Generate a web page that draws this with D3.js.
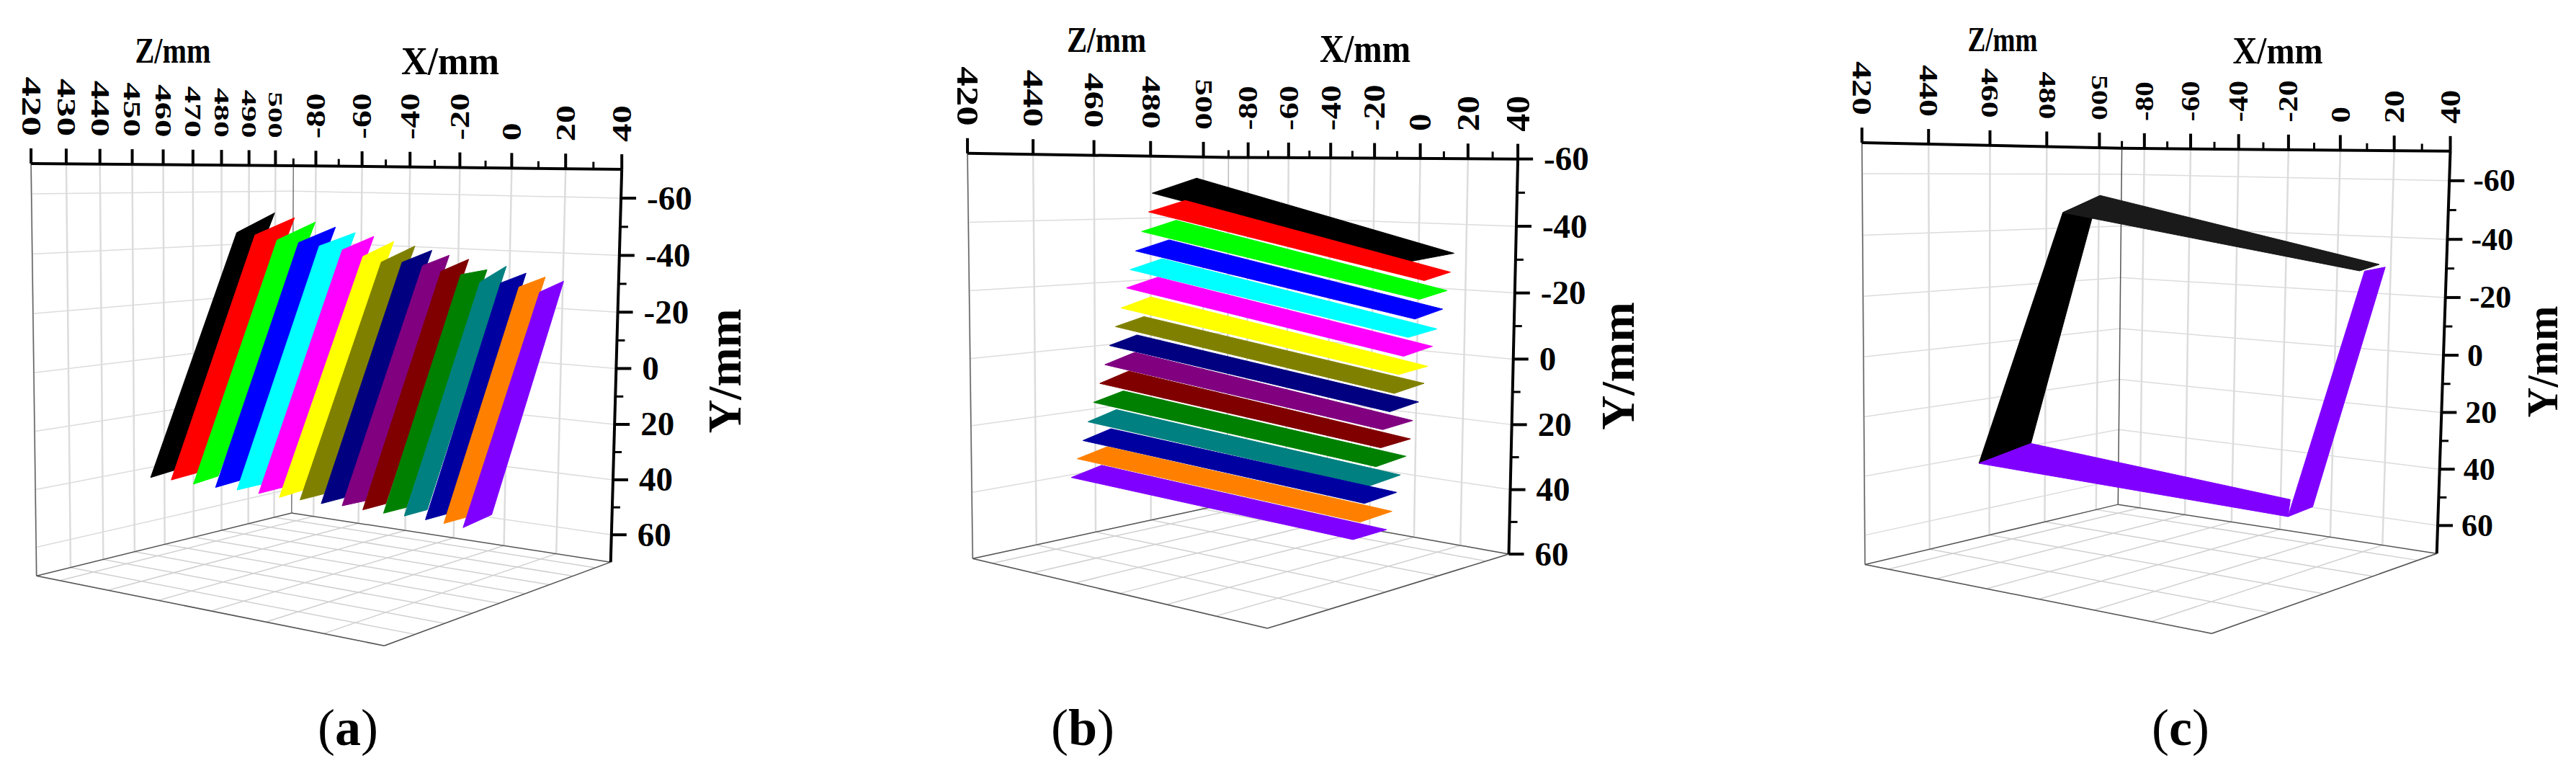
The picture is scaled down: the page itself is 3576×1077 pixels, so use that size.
<!DOCTYPE html>
<html><head><meta charset="utf-8">
<script src="https://cdn.jsdelivr.net/npm/d3@7"></script>
<style>html,body{margin:0;background:#fff}svg{display:block}text{font-family:"Liberation Serif",serif;font-weight:bold;fill:#000}</style>
</head><body><svg id="c" width="3576" height="1077"></svg>
<script>
const stripColors=["#000000","#ff0000","#00ff00","#0000ff","#00ffff","#ff00ff","#ffff00","#808000","#000080","#800080","#800000","#008000","#008080","#0000a0","#ff8000","#8000ff"];
const outlineColors=["#000000","#1a1a1a","#8000ff","#8000ff"];
const xTicks=[-80,-60,-40,-20,0,20,40];
const xMinor=[-90,-70,-50,-30,-10,10,30];
const zTicksA=[420,430,440,450,460,470,480,490,500];
const zTicksBC=[420,440,460,480,500];
const yTicks=[-60,-40,-20,0,20,40,60];
const yMinor=[-50,-30,-10,10,30,50];

// corner values of every scanned strip, in mm
const stripXa=[[-78.5,-81.0,-75.1,-64.1],[-70.7,-72.4,-65.4,-55.7],[-61.4,-63.5,-56.9,-46.8],[-52.5,-55.0,-47.5,-38.1],[-44.1,-46.8,-38.9,-29.8],[-34.9,-39.2,-31.1,-21.6],[-26.8,-31.2,-23.1,-13.9],[-19.7,-22.8,-15.3,-6.3],[-11.8,-16.2,-7.5,1.3],[-4.1,-9.5,0.1,8.7],[2.7,-2.1,7.5,15.9],[9.9,4.8,14.9,23.0],[16.8,11.9,22.1,30.0],[24.1,19.1,29.2,37.0],[30.5,26.0,35.5,43.0],[37.6,32.5,43.9,49.2]];
const stripYa=[[-45.2,-52.0,38.5,36.2],[-44.6,-50.4,38.2,36.0],[-43.1,-49.0,38.4,36.3],[-42.5,-47.4,38.6,36.3],[-41.6,-45.6,38.9,36.1],[-40.6,-44.5,39.1,36.2],[-38.6,-42.9,39.0,36.5],[-36.9,-41.6,39.3,36.3],[-37.2,-40.3,39.5,36.5],[-36.4,-38.8,39.6,36.2],[-34.8,-37.7,39.6,36.5],[-34.0,-34.3,39.8,36.6],[-31.8,-35.9,39.6,36.5],[-31.9,-33.8,39.9,36.7],[-30.9,-32.8,40.2,37.0],[-29.6,-31.7,38.2,37.4]];
const stripZa=stripColors.map(()=>[476,492,452,436]);

const stripXb=[[-83.6,-82.9,32.4,31.2],[-81.3,-84.7,34.0,39.7],[-82.0,-86.6,34.8,40.0],[-80.8,-86.1,36.1,41.4],[-79.3,-85.5,37.0,42.0],[-78.3,-85.0,37.3,42.4],[-76.7,-84.4,38.6,43.8],[-75.2,-83.7,40.3,45.3],[-75.3,-84.4,40.3,45.8],[-73.2,-81.3,41.2,46.4],[-71.3,-80.1,43.5,48.9],[-71.5,-80.0,43.9,49.4],[-69.8,-79.2,45.0,50.1],[-67.8,-77.6,46.8,51.7],[-67.6,-76.6,47.2,52.3],[-66.0,-75.0,48.4,53.1]];
const stripYb=[[-48.2,-53.0,-32.4,-30.7],[-42.3,-45.7,-27.1,-25.8],[-36.1,-39.2,-21.9,-20.7],[-30.1,-32.9,-16.8,-15.5],[-24.4,-26.9,-11.4,-10.7],[-18.8,-21.0,-6.6,-5.7],[-12.8,-14.8,-1.3,-1.1],[-7.3,-8.7,3.1,3.6],[-1.6,-2.9,8.1,8.3],[3.9,2.2,12.9,12.7],[9.2,7.8,17.4,16.9],[14.8,13.9,21.9,21.6],[20.2,19.4,26.5,26.2],[25.3,24.9,30.6,30.1],[30.5,30.2,35.4,34.6],[35.5,35.4,39.7,38.5]];
const stripZb=[[476,492,492,476],[473,489,489,473],[471,487,487,471],[468,484,484,468],[465,481,481,465],[463,479,479,463],[460,476,476,460],[457,473,473,457],[455,471,471,455],[452,468,468,452],[449,465,465,449],[447,463,463,447],[444,460,460,444],[441,457,457,441],[439,455,455,439],[436,452,452,436]];

const stripXc=[[-78.1,-81.6,-62.3,-63.7],[-78.1,-80.5,42.4,35.8],[-63.7,-62.3,49.3,48.7],[37.5,31.6,42.5,48.7]];
const stripYc=[[-46.4,-51.4,31.8,35.7],[-46.4,-52.3,-33.5,-31.1],[35.7,31.8,33.0,38.2],[-31.1,-31.1,39.8,38.2]];
const stripZc=[[476,492,452,436],[476,492,476,476],[436,452,436,436],[476,492,452,436]];

const panels=[
{name:"a",ox:0,sx:1.568,sy:1.456,xD:[-90,40],yD:[-70,70],zD:[420,507],zTicks:zTicksA,
 cal:[[-90,-70,420,68,330],[-90,-70,507,637,335],[40,-70,507,1355,342],[-90,70,507,635,1035],[-90,70,420,80,1165],[40,70,507,1330,1135],[40,70,420,835,1305],
 [-90,-70,430,145,331],[-90,-70,440,218,331],[-90,-70,450,288,332],[-90,-70,460,355,332],[-90,-70,470,420,333],[-90,-70,480,481,333],[-90,-70,490,540,334],[-90,-70,500,598,335],
 [-80,-70,507,688,336],[-60,-70,507,790,337],[-40,-70,507,895,338],[-20,-70,507,1002,339],[0,-70,507,1115,340],[20,-70,507,1232,341],
 [40,-60,507,1352,400],[40,-40,507,1345,515],[40,-20,507,1342,630],[40,0,507,1340,745],[40,20,507,1338,858],[40,40,507,1335,970],[40,60,507,1332,1082]],
 sxs:stripXa,sys:stripYa,szs:stripZa,colors:stripColors,zLab:[55,43],zFs:[37,28],xLab:[47,51],xFs:[38,38],yX:36,yFs:47,
 zT:[240,87,105,50],xT:[625,103,136,54],yT:[1028,515,173,66],cap:[483,1034],backStroke:"#777"},
{name:"b",ox:1250,sx:1.568,sy:1.456,xD:[-90,40],yD:[-60,60],zD:[420,510],zTicks:zTicksBC,
 cal:[[-90,-60,420,147,310],[-90,-60,510,714,318],[40,-60,510,1345,321],[-90,60,510,714,1018],[-90,60,420,155,1128],[40,60,510,1322,1120],[40,60,420,800,1270],
 [-90,-60,440,290,312],[-90,-60,460,420,314],[-90,-60,480,544,316],[-90,-60,500,658,317],
 [-80,-60,510,757,318],[-60,-60,510,845,319],[-40,-60,510,936,319],[-20,-60,510,1032,320],[0,-60,510,1131,320],[20,-60,510,1236,321],
 [40,-40,510,1340,457],[40,-20,510,1338,592],[40,0,510,1335,725],[40,20,510,1330,858],[40,40,510,1327,990]],
 sxs:stripXb,sys:stripYb,szs:stripZb,colors:stripColors,zLab:[55,47],zFs:[42,33],xLab:[46,50],xFs:[37,47],yX:36,yFs:47,
 zT:[1536,72,110,50],xT:[1895,86,126,54],yT:[2268,508,178,66],cap:[1503,1034],backStroke:"#bbb"},
{name:"c",ox:2500,sx:1.457,sy:1.457,xD:[-90,40],yD:[-70,70],zD:[420,509],zTicks:zTicksBC,
 cal:[[-90,-70,420,125,288],[-90,-70,509,650,300],[40,-70,509,1312,305],[-90,70,509,642,1020],[-90,70,420,130,1142],[40,70,509,1285,1120],[40,70,420,830,1282],
 [-90,-70,440,260,291],[-90,-70,460,380,294],[-90,-70,480,495,296],[-90,-70,500,602,298],
 [-80,-70,509,695,301],[-60,-70,509,790,302],[-40,-70,509,885,302],[-20,-70,509,988,303],[0,-70,509,1090,304],[20,-70,509,1200,304],
 [40,-60,509,1312,367],[40,-40,509,1308,484],[40,-20,509,1305,602],[40,0,509,1300,718],[40,20,509,1296,833],[40,40,509,1292,948],[40,60,509,1288,1062]],
 sxs:stripXc,sys:stripYc,szs:stripZc,colors:outlineColors,zLab:[50,42],zFs:[38,31],xLab:[41,47],xFs:[36,40],yX:33,yFs:44,
 zT:[2780,71,97,48],xT:[3162,88,125,52],yT:[3550,502,155,62],cap:[3027,1034],backStroke:"#555"}
];

function solve(A,b){const n=b.length;const M=A.map((r,i)=>[...r,b[i]]);
 for(let i=0;i<n;i++){let p=i;for(let k=i+1;k<n;k++)if(Math.abs(M[k][i])>Math.abs(M[p][i]))p=k;[M[i],M[p]]=[M[p],M[i]];
  for(let k=i+1;k<n;k++){const f=M[k][i]/M[i][i];for(let j=i;j<=n;j++)M[k][j]-=f*M[i][j];}}
 const x=Array(n).fill(0);for(let i=n-1;i>=0;i--){let s=M[i][n];for(let j=i+1;j<n;j++)s-=M[i][j]*x[j];x[i]=s/M[i][i];}return x;}
function camera(cfg){
 const sX=d3.scaleLinear().domain(cfg.xD).range([0,1]),sY=d3.scaleLinear().domain(cfg.yD).range([0,1]),sZ=d3.scaleLinear().domain(cfg.zD).range([0,1]);
 const rows=[],rhs=[];
 cfg.cal.forEach(([x,y,z,zu,zv])=>{const X=sX(x),Y=sY(y),Z=sZ(z),u=(cfg.ox+zu/cfg.sx)/1000,v=(zv/cfg.sy)/1000;
  rows.push([X,Y,Z,1,0,0,0,0,-u*X,-u*Y,-u*Z]);rhs.push(u);rows.push([0,0,0,0,X,Y,Z,1,-v*X,-v*Y,-v*Z]);rhs.push(v);});
 const n=11,AtA=d3.range(n).map(()=>Array(n).fill(0)),Atb=Array(n).fill(0);
 rows.forEach((r,k)=>{for(let i=0;i<n;i++){Atb[i]+=r[i]*rhs[k];for(let j=0;j<n;j++)AtA[i][j]+=r[i]*r[j];}});
 const p=solve(AtA,Atb);
 return (x,y,z)=>{const X=sX(x),Y=sY(y),Z=sZ(z),w=p[8]*X+p[9]*Y+p[10]*Z+1;return [1000*(p[0]*X+p[1]*Y+p[2]*Z+p[3])/w,1000*(p[4]*X+p[5]*Y+p[6]*Z+p[7])/w];};
}
const svg=d3.select("#c");
panels.forEach(cfg=>{
 const proj=camera(cfg);
 const g=svg.append("g");
 const [x0,x1]=cfg.xD,[y0,y1]=cfg.yD,[z0,z1]=cfg.zD;
 const seg=(a,b,st,w)=>{const p=proj(...a),q=proj(...b);g.append("line").attr("x1",p[0]).attr("y1",p[1]).attr("x2",q[0]).attr("y2",q[1]).attr("stroke",st).attr("stroke-width",w);};
 const grid="#dcdcdc";
 cfg.zTicks.forEach(z=>{seg([x0,y0,z],[x0,y1,z],grid,2.5);seg([x0,y1,z],[x1,y1,z],"#d0d0d0",1.5);});
 xTicks.forEach(x=>{seg([x,y0,z1],[x,y1,z1],grid,2.5);seg([x,y1,z0],[x,y1,z1],"#d0d0d0",1.5);});
 yTicks.forEach(y=>{seg([x0,y,z0],[x0,y,z1],grid,1.5);seg([x0,y,z1],[x1,y,z1],grid,1.5);});
 seg([x0,y0,z0],[x0,y1,z0],"#666",1.5);
 seg([x0,y0,z1],[x0,y1,z1],cfg.backStroke,1.5);
 seg([x0,y1,z0],[x0,y1,z1],"#555",1.5);seg([x0,y1,z1],[x1,y1,z1],"#555",1.5);seg([x1,y1,z1],[x1,y1,z0],"#555",1.5);seg([x1,y1,z0],[x0,y1,z0],"#555",1.5);
 // strips
 g.selectAll("polygon").data(cfg.sxs.map((xs,i)=>xs.map((x,k)=>proj(x,cfg.sys[i][k],cfg.szs[i][k])))).join("polygon")
  .attr("points",d=>d.map(q=>q.join(",")).join(" ")).attr("fill",(d,i)=>cfg.colors[i]).attr("stroke",(d,i)=>cfg.colors[i]).attr("stroke-width",1);
 // axes
 seg([x0,y0,z0],[x0,y0,z1],"#000",4);seg([x0,y0,z1],[x1,y0,z1],"#000",4);seg([x1,y0,z1],[x1,y1,z1],"#000",4);
 const tick=(p,dx,dy,w)=>g.append("line").attr("x1",p[0]).attr("y1",p[1]).attr("x2",p[0]+dx).attr("y2",p[1]+dy).attr("stroke","#000").attr("stroke-width",w);
 const lab=(p,rot,t,fs,len)=>{g.append("text").attr("transform",`translate(${p[0]},${p[1]-38}) rotate(${rot})`).attr("text-anchor",rot>0?"end":"start").attr("dy",".33em").attr("font-size",fs).attr("textLength",len).attr("lengthAdjust","spacingAndGlyphs").text(t);};
 const emw=t=>{const s=String(t);return s.replace("-","").length*.5+(s[0]==="-"?.333:0);};
 const zI=d3.scaleLinear().domain([cfg.zTicks[0],500]);
 cfg.zTicks.forEach(z=>{const p=proj(x0,y0,z);tick(p,0,-21,4);lab(p,90,z,zI.copy().range(cfg.zFs)(z),zI.copy().range(cfg.zLab)(z)*emw(z));});
 const xI=d3.scaleLinear().domain([-80,40]);
 xTicks.forEach(x=>{const p=proj(x,y0,z1);tick(p,0,-21,4);lab(p,-90,x,xI.copy().range(cfg.xFs)(x),xI.copy().range(cfg.xLab)(x)*emw(x));});
 xMinor.forEach(x=>{tick(proj(x,y0,z1),0,-10,3);});
 yTicks.forEach(y=>{const p=proj(x1,y,z1);tick(p,21,0,4);g.append("text").attr("x",p[0]+cfg.yX).attr("y",p[1]).attr("dy",".33em").attr("font-size",cfg.yFs).text(y);});
 yMinor.forEach(y=>{tick(proj(x1,y,z1),11,0,3);});
 const title=(t,a,rot)=>{g.append("text").attr("transform",`translate(${a[0]},${a[1]}) rotate(${rot})`).attr("text-anchor","middle").attr("font-size",a[3]).attr("textLength",a[2]).attr("lengthAdjust","spacingAndGlyphs").text(t);};
 title("Z/mm",cfg.zT,0);title("X/mm",cfg.xT,0);title("Y/mm",cfg.yT,-90);
 const c=g.append("text").attr("x",cfg.cap[0]).attr("y",cfg.cap[1]).attr("text-anchor","middle").attr("font-size",72);
 c.append("tspan").attr("font-weight","normal").text("(");c.append("tspan").text(cfg.name);c.append("tspan").attr("font-weight","normal").text(")");
});
</script></body></html>
